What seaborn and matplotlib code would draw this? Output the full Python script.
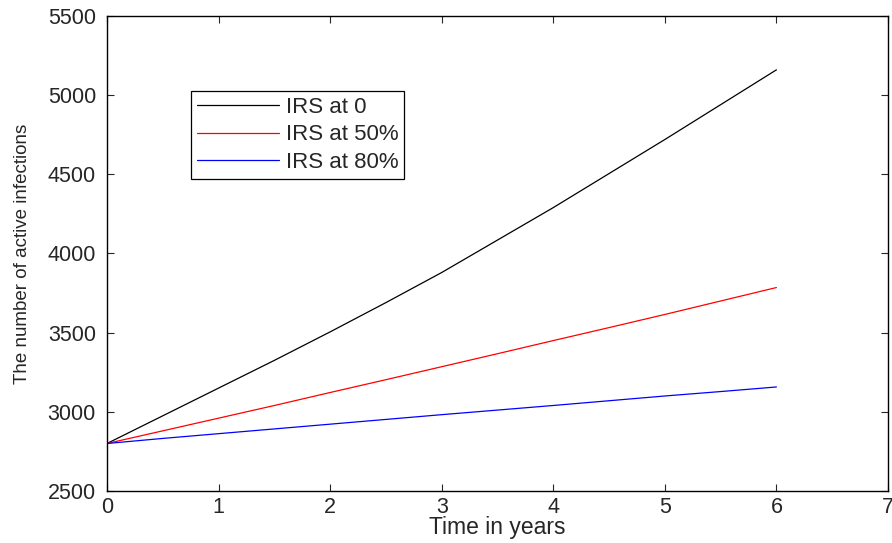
import numpy as np
import pandas as pd
import matplotlib
matplotlib.use("Agg")
import matplotlib.pyplot as plt
import seaborn as sns

# ---- data ----
time_years = [0, 0.5, 1, 1.5, 2, 2.5, 3, 3.5, 4, 4.5, 5, 5.5, 6]
irs_0 = [2800, 2975, 3150, 3325, 3505, 3690, 3880, 4085, 4290, 4505, 4720, 4940, 5160]
irs_50 = [2800, 2880, 2960, 3040, 3122, 3203, 3285, 3367, 3450, 3532, 3615, 3700, 3785]
irs_80 = [2800, 2832, 2862, 2892, 2922, 2952, 2982, 3011, 3040, 3070, 3100, 3128, 3157]
series_names = ["IRS at 0", "IRS at 50%", "IRS at 80%"]
series_colors = ["black", "red", "blue"]
x_ticks = [0, 1, 2, 3, 4, 5, 6, 7]
y_ticks = [2500, 3000, 3500, 4000, 4500, 5000, 5500]

df = pd.concat([
    pd.DataFrame({"t": time_years, "v": vals, "s": name})
    for name, vals in zip(series_names, [irs_0, irs_50, irs_80])
])

sns.set_style("ticks")
plt.rcParams["font.family"] = ["Liberation Sans", "DejaVu Sans"]

fig = plt.figure(figsize=(8.92, 5.43), dpi=100)
ax = fig.add_axes([0.12, 0.0958, 0.8755, 0.8747])

sns.lineplot(data=df, x="t", y="v", hue="s", hue_order=series_names,
             palette=dict(zip(series_names, series_colors)), linewidth=0.9,
             ax=ax, legend=True)

ax.set_xlim(0, 7)
ax.set_ylim(2500, 5500)
ax.set_xticks(x_ticks)
ax.set_yticks(y_ticks)
ax.tick_params(direction="in", length=5, width=0.8, labelsize=15.5, top=True, right=True)
ax.tick_params(axis="y", pad=8)
ax.tick_params(axis="x", pad=4)
for sp in ax.spines.values():
    sp.set_visible(True)
    sp.set_linewidth(1.0)
    sp.set_color("black")
ax.set_xlabel("Time in years", fontsize=16.5, labelpad=-1)
ax.set_ylabel("The number of active infections", fontsize=13.5, labelpad=12)

leg = ax.legend(loc="upper left", bbox_to_anchor=(0.1076, 0.842), fontsize=16,
                frameon=True, fancybox=False, edgecolor="black", framealpha=1,
                handlelength=3.7, handletextpad=0.3, borderpad=0.25, labelspacing=0.3,
                borderaxespad=0)
leg.get_frame().set_linewidth(0.9)

fig.savefig("out.png", dpi=100)
